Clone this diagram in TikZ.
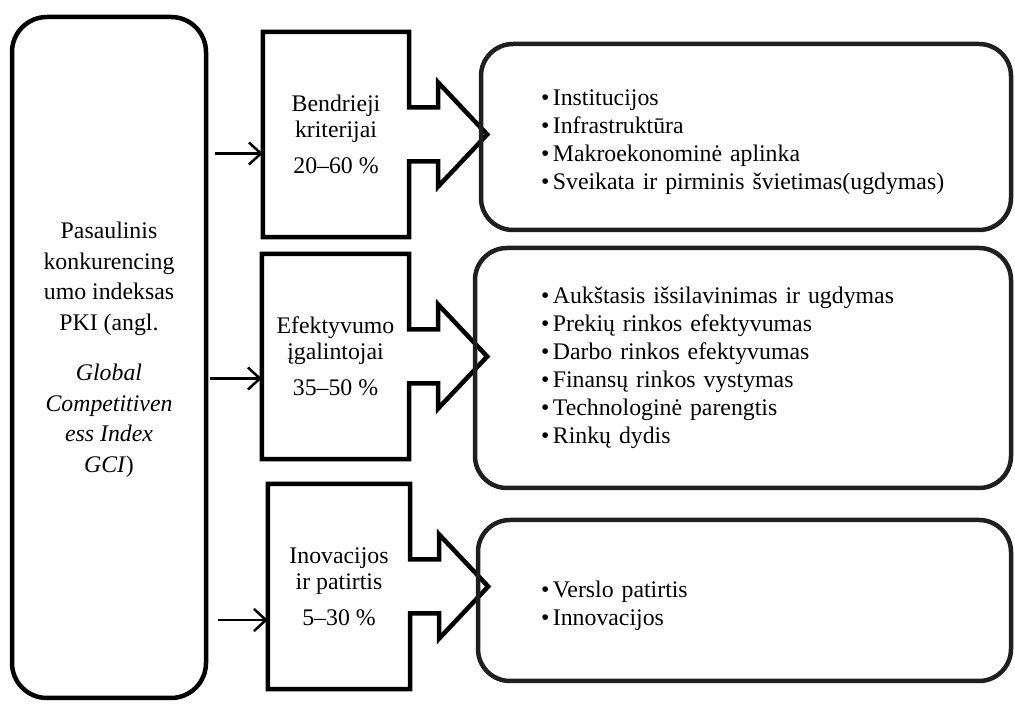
\documentclass[tikz,border=0pt]{standalone}
\usepackage{fontspec}
\setmainfont{Liberation Serif}
\usetikzlibrary{arrows.meta}
\newcommand{\bul}{\textbullet\hspace{0.15em}}
\newcommand{\topgap}{\rule{0pt}{27pt}}
\tikzset{
  indexbox/.style={draw, line width=4.5pt, rounded corners=35pt, align=center,
    minimum width=194pt, minimum height=681pt, inner sep=0pt,
    font=\fontsize{23.8pt}{30.5pt}\selectfont},
  groupbox/.style={align=center, minimum width=146pt, minimum height=205pt,
    inner sep=0pt, font=\fontsize{23.8pt}{26pt}\selectfont},
  calloutline/.style={line width=4.5pt},
  listbox/.style={draw=black!88, line width=4.5pt, rounded corners=32pt,
    align=left, inner xsep=0pt, font=\fontsize{23.8pt}{28pt}\selectfont},
  conn/.style={line width=2.5pt, -{Straight Barb[length=12pt,width=22pt]}}
}
\begin{document}
\begin{tikzpicture}[x=1pt,y=1pt]
\useasboundingbox (0,0) rectangle (1015,704);
\node[indexbox] (pki) at (109,346.5) {Pasaulinis\\konkurencing\\umo indeksas\\PKI (angl.\\[20pt]
  \textit{Global}\\\textit{Competitiven}\\\textit{ess Index}\\\textit{GCI})\rule[-21pt]{0pt}{0pt}};
\node[groupbox] (bendr) at (336,569.5) {Bendrieji\\kriterijai\\[10pt]20–60 \%};
\node[groupbox, minimum width=147pt] (efekt) at (335.5,347.5) {Efektyvumo\\įgalintojai\\[10pt]35–50 \%};
\node[groupbox, minimum width=142pt] (inov) at (339,117.5) {Inovacijos\\ir patirtis\\[10pt]5–30 \%};
\foreach \g in {bendr,efekt,inov}
  \draw[calloutline] (\g.south west) |- (\g.north east) -- ([yshift=27pt]\g.east)
    -- ++(29,0) -- ++(0,25) -- ++(49,-52) -- ++(-49,-52) -- ++(0,25) -- ++(-29,0)
    -- (\g.south east) -- cycle;
\node[listbox, minimum width=530pt, minimum height=186pt, text width=410pt] (bendrlist) at (746,567)
  {\topgap\bul Institucijos\\\bul Infrastruktūra\\\bul Makroekonominė aplinka\\\bul Sveikata ir pirminis švietimas(ugdymas)};
\node[listbox, minimum width=536pt, minimum height=240pt, text width=404pt] (efektlist) at (743,336)
  {\bul Aukštasis išsilavinimas ir ugdymas\\\bul Prekių rinkos efektyvumas\\\bul Darbo rinkos efektyvumas\\
   \bul Finansų rinkos vystymas\\\bul Technologinė parengtis\\\bul Rinkų dydis};
\node[listbox, minimum width=533pt, minimum height=161pt, text width=407pt] (inovlist) at (744.5,103.5)
  {\topgap\bul Verslo patirtis\\\bul Innovacijos};
\coordinate (s1) at (215,550.5);
\coordinate (s2) at (210,325.5);
\coordinate (s3) at (218,84);
\draw[conn] (s1) -- (s1 -| bendr.west);
\draw[conn] (s2) -- (s2 -| efekt.west);
\draw[conn] (s3) -- (s3 -| inov.west);
\end{tikzpicture}
\end{document}
